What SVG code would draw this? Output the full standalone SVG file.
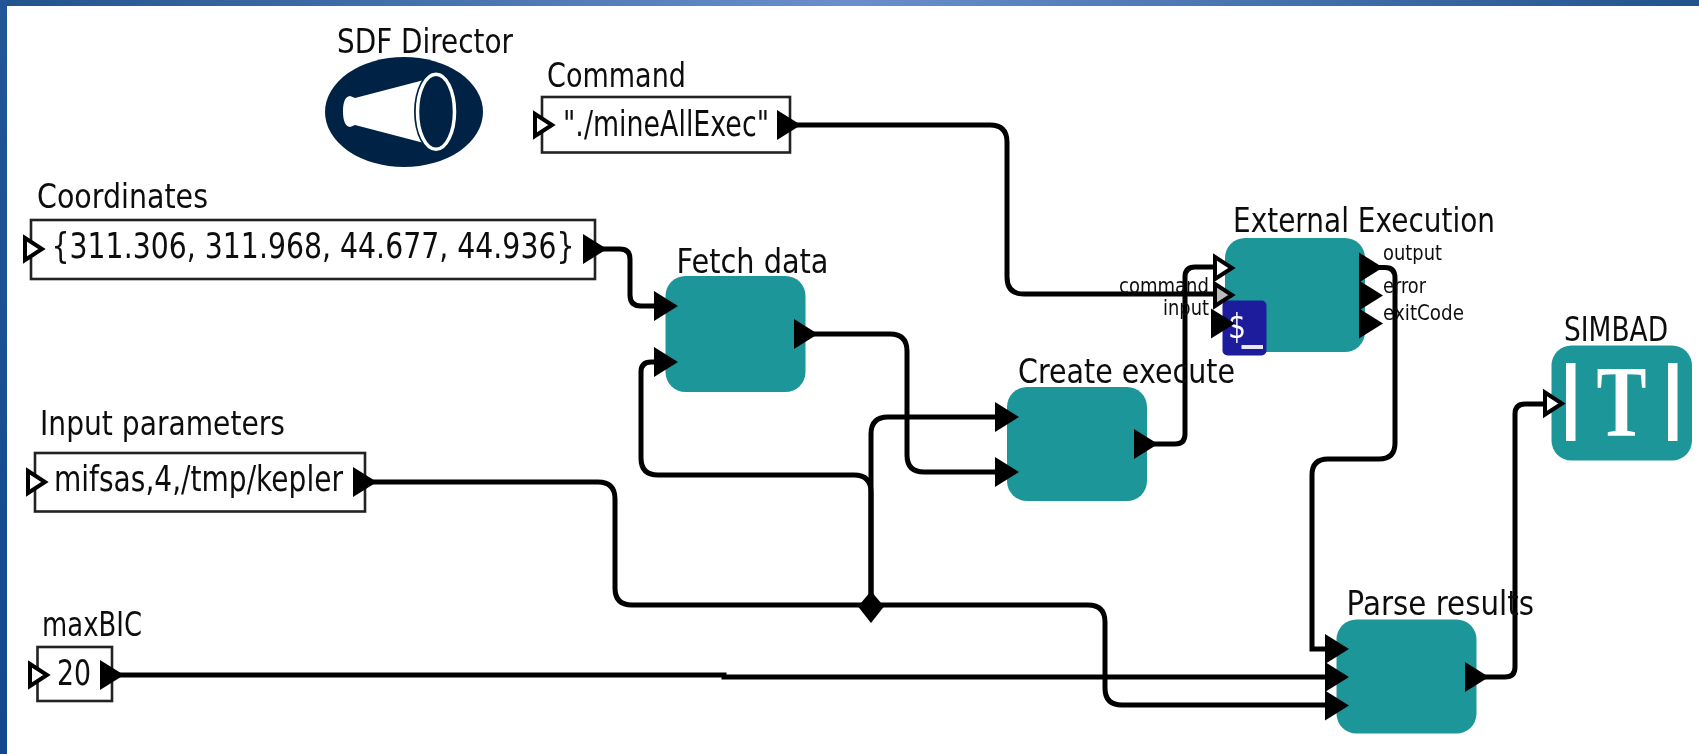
<svg xmlns="http://www.w3.org/2000/svg" width="1699" height="754" viewBox="0 0 1699 754">
<style>
text{font-family:"DejaVu Sans","Liberation Sans",sans-serif;fill:#111}
g{filter:url(#soft)}
.lbl{font-size:33px}
.val{font-size:35px}
.pl{font-size:21px}
.box{fill:#fff;stroke:#222;stroke-width:2.6}
.teal{fill:#1f9699}
.wire{fill:none;stroke:#000;stroke-width:5}
.out{fill:#000}
.in{fill:#fff;stroke:#000;stroke-width:4}
.mid{fill:#bbb;stroke:#000;stroke-width:4}
</style>
<defs>
<filter id="soft" x="-5%" y="-5%" width="110%" height="110%"><feGaussianBlur stdDeviation="0.6"/></filter>
<linearGradient id="gt" x1="0" x2="1" y1="0" y2="0"><stop offset="0" stop-color="#21538f"/><stop offset=".5" stop-color="#6a8fcf"/><stop offset="1" stop-color="#21538f"/></linearGradient>
<linearGradient id="gl" x1="0" x2="0" y1="0" y2="1"><stop offset="0" stop-color="#235597"/><stop offset="1" stop-color="#13488f"/></linearGradient>
<polygon id="po" class="out" points="-1,-15 23,0 -1,15"/>
<polygon id="pi" class="in" points="2,-11 19,0 2,11"/>
<polygon id="pm" class="mid" points="2,-11 19,0 2,11"/>
</defs>
<rect width="1699" height="754" fill="#fff"/>
<rect width="1699" height="6" fill="url(#gt)"/>
<rect width="7" height="754" fill="url(#gl)"/>
<g id="connectors">
<path class="wire" d="M790 125H990Q1007 125 1007 142V277Q1007 294 1024 294H1215"/>
<path class="wire" d="M595 249H620Q630 249 630 259V295Q630 306 641 306H658"/>
<path class="wire" d="M806 334H890Q907 334 907 351V455Q907 472 924 472H998"/>
<path class="wire" d="M1146 444H1175Q1185 444 1185 434V277Q1185 267 1195 267H1214"/>
<path class="wire" d="M1372 267.500H1385Q1395 267.500 1395 278V443Q1395 459 1379 459H1328Q1312 459 1312 475V649H1328"/>
<path class="wire" d="M365 482H598Q615 482 615 499V588Q615 605 632 605H1088Q1105 605 1105 622V688Q1105 705 1122 705H1328"/>
<path class="wire" d="M871 606V434Q871 417 888 417H998"/>
<path class="wire" d="M871 606V492Q871 475 854 475H658Q641 475 641 458V372Q641 362 651 362H658"/>
<path class="wire" d="M112 675H724V677H1328"/>
<path class="wire" d="M1477 677H1505Q1515 677 1515 667V414Q1515 404 1525 404H1545"/>
</g>
<g id="relation"><polygon points="858,606.500 871,591 884,606.500 871,623" fill="#000"/></g>
<g id="sdf-director">
<text class="lbl" x="337" y="53" textLength="176" lengthAdjust="spacingAndGlyphs">SDF Director</text>
<ellipse cx="404" cy="112" rx="79" ry="55" fill="#012345"/>
<path d="M343 111Q343 97 350 96L355 98L424 80V143L355 125L350 127Q343 126 343 111Z" fill="#fff"/>
<ellipse cx="436" cy="111.700" rx="22" ry="41" fill="#012345"/>
<ellipse cx="436" cy="111.700" rx="18.500" ry="37.500" fill="#012345" stroke="#fff" stroke-width="3.500"/>
</g>
<g id="command">
<text class="lbl" x="547" y="87" textLength="139" lengthAdjust="spacingAndGlyphs">Command</text>
<rect class="box" x="542" y="97" width="248" height="55.500"/>
<text class="val" x="563" y="136" textLength="206" lengthAdjust="spacingAndGlyphs">"./mineAllExec"</text>
<use href="#pi" x="533" y="125"/><use href="#po" x="778" y="125"/>
</g>
<g id="coordinates">
<text class="lbl" x="37" y="208" textLength="171" lengthAdjust="spacingAndGlyphs">Coordinates</text>
<rect class="box" x="31" y="220" width="564" height="59"/>
<text class="val" x="51.500" y="258" textLength="523" lengthAdjust="spacingAndGlyphs">{311.306, 311.968, 44.677, 44.936}</text>
<use href="#pi" x="23" y="249"/><use href="#po" x="584" y="249"/>
</g>
<g id="input-parameters">
<text class="lbl" x="40" y="435" textLength="245" lengthAdjust="spacingAndGlyphs">Input parameters</text>
<rect class="box" x="35" y="453" width="330" height="58.500"/>
<text class="val" x="54" y="491" textLength="289" lengthAdjust="spacingAndGlyphs">mifsas,4,/tmp/kepler</text>
<use href="#pi" x="26" y="482"/><use href="#po" x="354" y="482"/>
</g>
<g id="maxbic">
<text class="lbl" x="42" y="636" textLength="100" lengthAdjust="spacingAndGlyphs">maxBIC</text>
<rect class="box" x="37.500" y="647" width="74.500" height="54"/>
<text class="val" x="57" y="685" textLength="34" lengthAdjust="spacingAndGlyphs">20</text>
<use href="#pi" x="28" y="675"/><use href="#po" x="101" y="675"/>
</g>
<g id="fetch-data">
<text class="lbl" x="676.500" y="273" textLength="152" lengthAdjust="spacingAndGlyphs">Fetch data</text>
<rect class="teal" x="665.500" y="276" width="140" height="116" rx="20"/>
<use href="#po" x="655" y="306"/><use href="#po" x="655" y="362"/><use href="#po" x="795" y="334"/>
</g>
<g id="create-execute">
<text class="lbl" x="1018" y="383" textLength="217" lengthAdjust="spacingAndGlyphs">Create execute</text>
<rect class="teal" x="1007" y="387" width="140" height="114" rx="20"/>
<use href="#po" x="996" y="417"/><use href="#po" x="996" y="472"/><use href="#po" x="1135" y="444"/>
</g>
<g id="external-execution">
<text class="lbl" x="1233" y="232" textLength="262" lengthAdjust="spacingAndGlyphs">External Execution</text>
<rect class="teal" x="1225" y="238" width="140" height="114" rx="20"/>
<rect x="1222.500" y="300.500" width="44" height="55" rx="5" fill="#1c1a9c"/>
<text x="1228" y="338" font-size="33" style="fill:#fff" textLength="18" lengthAdjust="spacingAndGlyphs">$</text>
<rect x="1241.500" y="345" width="21.500" height="4" fill="#e8e8f4"/>
<text class="pl" x="1119" y="293" textLength="90" lengthAdjust="spacingAndGlyphs">command</text>
<text class="pl" x="1163" y="315" textLength="46" lengthAdjust="spacingAndGlyphs">input</text>
<text class="pl" x="1383" y="260" textLength="59" lengthAdjust="spacingAndGlyphs">output</text>
<text class="pl" x="1383" y="293" textLength="43" lengthAdjust="spacingAndGlyphs">error</text>
<text class="pl" x="1383" y="320" textLength="81" lengthAdjust="spacingAndGlyphs">exitCode</text>
<use href="#pi" x="1213" y="268"/><use href="#pm" x="1213" y="295"/><use href="#po" x="1212" y="323.500"/>
<use href="#po" x="1360" y="267.500"/><use href="#po" x="1360" y="295.500"/><use href="#po" x="1360" y="323.500"/>
</g>
<g id="parse-results">
<text class="lbl" x="1346.500" y="615" textLength="187.500" lengthAdjust="spacingAndGlyphs">Parse results</text>
<rect class="teal" x="1336.500" y="619.500" width="140" height="114" rx="20"/>
<use href="#po" x="1326" y="649"/><use href="#po" x="1326" y="677"/><use href="#po" x="1326" y="705.500"/><use href="#po" x="1466" y="677"/>
</g>
<g id="simbad">
<text class="lbl" x="1564" y="341" textLength="104" lengthAdjust="spacingAndGlyphs">SIMBAD</text>
<rect class="teal" x="1551.500" y="345.500" width="140.500" height="115" rx="20"/>
<rect x="1566" y="363" width="9.500" height="78" fill="#fff"/>
<rect x="1668" y="363" width="9.500" height="78" fill="#fff"/>
<text x="1596.500" y="436" font-size="101" font-weight="bold" style="font-family:'Liberation Serif',serif;fill:#fff" textLength="50" lengthAdjust="spacingAndGlyphs">T</text>
<use href="#pi" x="1543" y="403.500"/>
</g>
</svg>
